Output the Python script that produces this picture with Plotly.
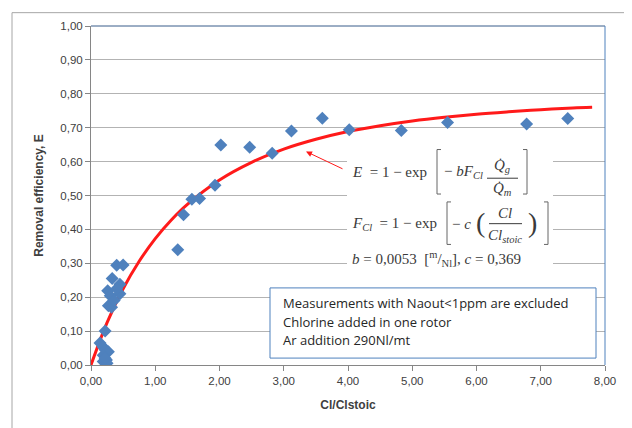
import plotly.graph_objects as go

# Measured points (Cl/Clstoic, removal efficiency E)
meas_x = [1.35, 1.44, 1.57, 1.69, 1.93, 2.02, 2.47, 2.82, 3.12, 3.60,
          4.02, 4.83, 5.55, 6.78, 7.42,
          0.40, 0.50, 0.33, 0.45, 0.26, 0.30, 0.45, 0.40, 0.27, 0.32, 0.36,
          0.22, 0.14, 0.19, 0.22, 0.27, 0.19, 0.24, 0.19, 0.25, 0.22]
meas_y = [0.34, 0.443, 0.489, 0.491, 0.53, 0.649, 0.642, 0.625, 0.69, 0.728,
          0.694, 0.692, 0.715, 0.711, 0.727,
          0.294, 0.295, 0.255, 0.238, 0.219, 0.204, 0.21, 0.225, 0.175, 0.17, 0.19,
          0.10, 0.065, 0.053, 0.045, 0.039, 0.029, 0.015, 0.01, 0.005, 0.02]

# Fitted curve
fit_x = [0, 0.25, 0.5, 0.75, 1.0, 1.25, 1.5, 2.0, 2.5, 3.0, 3.5, 4.0, 4.5,
         5.0, 5.5, 6.0, 6.5, 7.0, 7.5, 7.8]
fit_y = [0, 0.125, 0.225, 0.306, 0.373, 0.428, 0.474, 0.546, 0.598, 0.637,
         0.666, 0.689, 0.706, 0.720, 0.731, 0.740, 0.747, 0.753, 0.758, 0.760]

y_ticks = [i / 10 for i in range(11)]
x_ticks = list(range(9))

note_lines = ["Measurements with Naout<1ppm are excluded",
              "Chlorine added in one rotor",
              "Ar addition 290Nl/mt"]

fig = go.Figure()
fig.add_trace(go.Scatter(x=fit_x, y=fit_y, mode="lines",
                         line=dict(color="#ff1a1a", width=3, shape="spline"),
                         hoverinfo="skip", showlegend=False))
fig.add_trace(go.Scatter(x=meas_x, y=meas_y, mode="markers",
                         marker=dict(symbol="diamond", size=10, color="#4f81bd",
                                     line=dict(width=0)),
                         showlegend=False))

W, H = 632, 428
OFF = 8  # page offset of the figure (body margin)
PL, PR, PT, PB = 91, 605, 22, 365  # plot area in page pixels
L, T = PL - OFF, PT - OFF
R, B = W - (PR - OFF), H - (PB - OFF)
pw, ph = PR - PL, PB - PT


def px(xp):
    return (xp - PL) / pw


def py(yp):
    return (PB - yp) / ph


EQC = "#3a3a3a"
shapes = []
# chart area outer border (left and top)
shapes.append(dict(type="line", xref="paper", yref="paper",
                   x0=px(12), x1=px(12), y0=py(8.5), y1=py(450),
                   line=dict(color="#a6a6a6", width=1)))
shapes.append(dict(type="line", xref="paper", yref="paper",
                   x0=px(12), x1=px(660), y0=py(8.5), y1=py(8.5),
                   line=dict(color="#a6a6a6", width=1)))
# white background behind equations
shapes.append(dict(type="rect", xref="paper", yref="paper",
                   x0=px(347), x1=px(553), y0=py(272), y1=py(140),
                   fillcolor="white", line=dict(width=0), layer="above"))
# note box
shapes.append(dict(type="rect", xref="paper", yref="paper",
                   x0=px(270), x1=px(596), y0=py(358), y1=py(287),
                   fillcolor="white", line=dict(color="#4f81bd", width=1),
                   layer="above"))


def bracket(x, y0, y1, side):
    d = 4 if side == "l" else -4
    return dict(type="path", xref="paper", yref="paper", layer="above",
                path=f"M {px(x + d)} {py(y0)} L {px(x)} {py(y0)} L {px(x)} {py(y1)} L {px(x + d)} {py(y1)}",
                line=dict(color="#666666", width=1))


def hline(x0, x1, y):
    return dict(type="line", xref="paper", yref="paper", layer="above",
                x0=px(x0), x1=px(x1), y0=py(y), y1=py(y),
                line=dict(color=EQC, width=1))


shapes += [bracket(437, 147, 192, "l"), bracket(527, 147, 192, "r"),
           hline(487, 518, 176),
           bracket(447, 200, 243, "l"), bracket(548, 200, 243, "r"),
           hline(489, 522, 222)]

annotations = []


def txt(x, y, t, size=15, anchor="left"):
    annotations.append(dict(xref="paper", yref="paper", x=px(x), y=py(y), text=t,
                            showarrow=False, xanchor=anchor, yanchor="middle",
                            font=dict(family="Liberation Serif", size=size, color=EQC)))


# equation 1
txt(350, 170, "<i>E</i>  = 1 − exp")
txt(442, 170, "− <i>bF</i><sub><i>Cl</i></sub>")
txt(502, 164, "<i>Q̇</i><sub><i>g</i></sub>", anchor="center")
txt(502, 187, "<i>Q̇</i><sub><i>m</i></sub>", anchor="center")
# equation 2
txt(350, 222, "<i>F</i><sub><i>Cl</i></sub>  = 1 − exp")
txt(450, 222, "− <i>c</i>")
txt(480, 221, "(", size=28, anchor="center")
txt(532, 221, ")", size=28, anchor="center")
txt(505, 211, "<i>Cl</i>", anchor="center")
txt(505, 234, "<i>Cl</i><sub><i>stoic</i></sub>", anchor="center")
# equation 3
txt(350, 258, "<i>b</i> = 0,0053  [<sup>m</sup>/<sub>Nl</sub>], <i>c</i> = 0,369")

# arrow
annotations.append(dict(xref="paper", yref="paper", axref="pixel", ayref="pixel",
                        x=px(306), y=py(149), ax=38, ay=18, text="",
                        showarrow=True, arrowhead=2, arrowsize=1.2,
                        arrowwidth=1, arrowcolor="#ff1a1a"))
for i, line in enumerate(note_lines):
    annotations.append(dict(xref="paper", yref="paper", x=px(281), y=py(302 + i * 19),
                            text=line, showarrow=False, xanchor="left",
                            yanchor="middle",
                            font=dict(family="Open Sans", size=13, color="#262626")))

fig.update_layout(
    width=W, height=H,
    margin=dict(l=L, r=R, t=T, b=B),
    paper_bgcolor="white", plot_bgcolor="white",
    separators=", ",
    shapes=shapes, annotations=annotations,
    font=dict(family="Liberation Sans", size=11.5, color="#404040"),
)
fig.update_xaxes(range=[0, 8], tickvals=x_ticks, tickformat=".2f",
                 showgrid=False, zeroline=False,
                 showline=True, linecolor="#868686", linewidth=1,
                 mirror=False, ticks="outside", ticklen=5, tickcolor="#868686",
                 title=dict(text="<b>Cl/Clstoic</b>", font=dict(size=12, color="#404040"),
                            standoff=14))
fig.update_yaxes(range=[0, 1], tickvals=y_ticks, tickformat=".2f",
                 showgrid=True, gridcolor="#b3b3b3", gridwidth=1, zeroline=False,
                 showline=True, linecolor="#868686", linewidth=1,
                 ticks="outside", ticklen=5, tickcolor="#868686",
                 title=dict(text="<b>Removal efficiency, E</b>",
                            font=dict(size=12, color="#404040"), standoff=14))
# plot area border top/right in blue
fig.add_shape(type="line", xref="paper", yref="paper", x0=0, x1=1, y0=1, y1=1,
              line=dict(color="#385d8a", width=1))
fig.add_shape(type="line", xref="paper", yref="paper", x0=1, x1=1, y0=0, y1=1,
              line=dict(color="#4f81bd", width=1))

fig.write_html("out.html")
